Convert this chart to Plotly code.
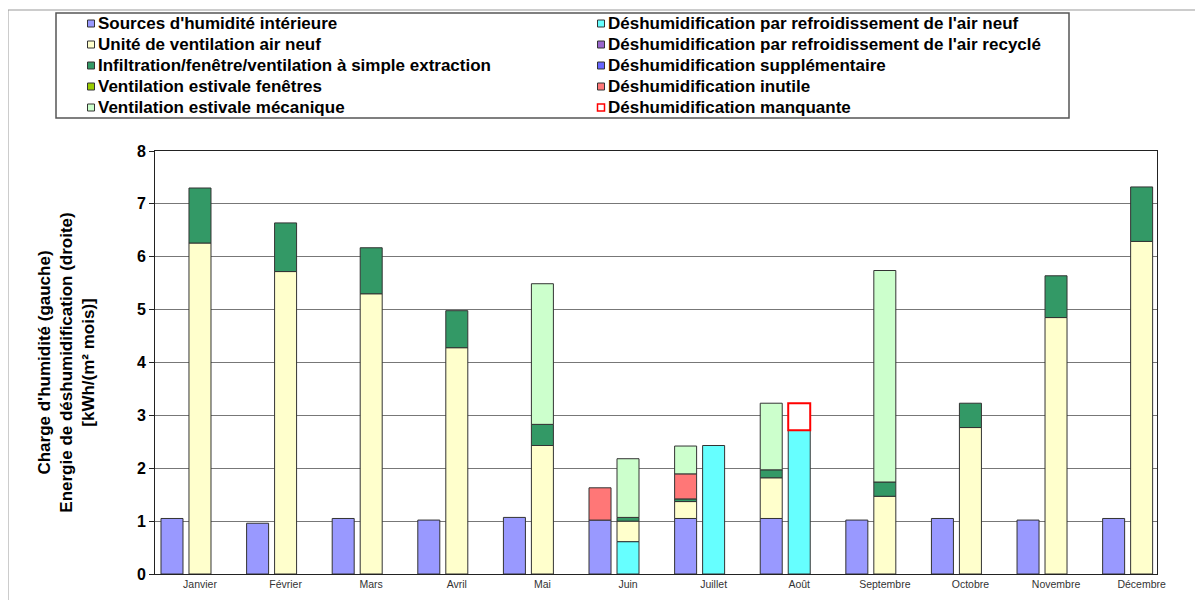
import plotly.graph_objects as go
import numpy as np

months = ["Janvier", "Février", "Mars", "Avril", "Mai", "Juin", "Juillet",
          "Août", "Septembre", "Octobre", "Novembre", "Décembre"]

# Left bar of each month (humidity load)
sources = [1.05, 0.96, 1.05, 1.02, 1.07, 1.02, 1.05, 1.05, 1.02, 1.05, 1.02, 1.05]
vent_air_neuf_gauche = [0, 0, 0, 0, 0, 0, 0.32, 0.77, 0, 0, 0, 0]
infiltration_gauche = [0, 0, 0, 0, 0, 0, 0.05, 0.15, 0, 0, 0, 0]
deshum_inutile = [0, 0, 0, 0, 0, 0.61, 0.47, 0, 0, 0, 0, 0]
vent_meca_gauche = [0, 0, 0, 0, 0, 0, 0.53, 1.26, 0, 0, 0, 0]

# Right bar of each month
deshum_air_neuf = [0, 0, 0, 0, 0, 0.61, 2.43, 2.72, 0, 0, 0, 0]
vent_air_neuf_droite = [6.26, 5.72, 5.30, 4.28, 2.43, 0.39, 0, 0, 1.47, 2.77, 4.85, 6.29]
infiltration_droite = [1.04, 0.92, 0.87, 0.70, 0.40, 0.07, 0, 0, 0.27, 0.46, 0.79, 1.03]
vent_meca_droite = [0, 0, 0, 0, 2.66, 1.11, 0, 0, 4.00, 0, 0, 0]
deshum_manquante = [0, 0, 0, 0, 0, 0, 0, 0.51, 0, 0, 0, 0]

# Series with no values in this chart (legend only)
vent_fenetres = [0] * 12
deshum_recycle = [0] * 12
deshum_supp = [0] * 12

y_ticks = [0, 1, 2, 3, 4, 5, 6, 7, 8]

FONT = "Arial, 'Liberation Sans', sans-serif"
OUTLINE = "#333333"

W, H = 1187, 592
ML, MR, MT, MB = 147, 38, 143, 26
PW, PH = W - ML - MR, H - MT - MB


def px_x(px):
    return (px - ML) / PW


def px_y(py):
    return (H - MB - py) / PH


fig = go.Figure()

# (name, left values, right values, color, legend column, legend row)
series = [
    ("Sources d'humidité intérieure", sources, None, "#9999ff", 0, 0),
    ("Unité de ventilation air neuf", vent_air_neuf_gauche, vent_air_neuf_droite, "#ffffcc", 0, 1),
    ("Infiltration/fenêtre/ventilation à simple extraction", infiltration_gauche, infiltration_droite, "#339966", 0, 2),
    ("Ventilation estivale fenêtres", vent_fenetres, None, "#99cc00", 0, 3),
    ("Ventilation estivale mécanique", vent_meca_gauche, vent_meca_droite, "#ccffcc", 0, 4),
    ("Déshumidification par refroidissement de l'air neuf", None, deshum_air_neuf, "#66ffff", 1, 0),
    ("Déshumidification par refroidissement de l'air recyclé", None, deshum_recycle, "#9966cc", 1, 1),
    ("Déshumidification supplémentaire", None, deshum_supp, "#6666ff", 1, 2),
    ("Déshumidification inutile", deshum_inutile, None, "#ff7777", 1, 3),
    ("Déshumidification manquante", None, deshum_manquante, "#ffffff", 1, 4),
]

# stacking order per bar
left_order = [sources, vent_air_neuf_gauche, vent_fenetres, infiltration_gauche,
              deshum_inutile, vent_meca_gauche]
right_order = [deshum_air_neuf, deshum_recycle, deshum_supp, vent_air_neuf_droite,
               infiltration_droite, vent_meca_droite, deshum_manquante]


def bases(order):
    out = {}
    cum = np.zeros(12)
    for arr in order:
        out[id(arr)] = cum.copy()
        cum = cum + np.array(arr, dtype=float)
    return out


left_base = bases(left_order)
right_base = bases(right_order)

for name, lv, rv, color, col, row in series:
    is_missing = name == "Déshumidification manquante"
    for vals, grp, bmap in ((lv, "L", left_base), (rv, "R", right_base)):
        if vals is None:
            continue
        y = [v if v else None for v in vals]
        fig.add_trace(go.Bar(
            x=months, y=y, base=bmap[id(vals)], name=name, offsetgroup=grp,
            showlegend=False,
            marker=dict(color=color,
                        line=dict(color="#ff0000" if is_missing else OUTLINE,
                                  width=2 if is_missing else 1)),
            hoverinfo="skip",
        ))

# Legend drawn as a framed box with square keys and text
LEG_X0, LEG_X1, LEG_Y0, LEG_Y1 = 48, 1061, 5, 110
COL_SYM = [83, 593]
ROW_Y = [15.5, 36.5, 57.5, 78.5, 99.5]
SYM = 3.5
fig.add_shape(type="rect", xref="paper", yref="paper",
              x0=px_x(LEG_X0), x1=px_x(LEG_X1), y0=px_y(LEG_Y1), y1=px_y(LEG_Y0),
              line=dict(color="#555555", width=1.5), fillcolor="white", layer="below")
for name, lv, rv, color, col, row in series:
    is_missing = name == "Déshumidification manquante"
    cx, cy = COL_SYM[col], ROW_Y[row]
    fig.add_shape(type="rect", xref="paper", yref="paper",
                  x0=px_x(cx - SYM), x1=px_x(cx + SYM), y0=px_y(cy + SYM), y1=px_y(cy - SYM),
                  fillcolor=color,
                  line=dict(color="#ff0000" if is_missing else OUTLINE,
                            width=1.5 if is_missing else 1))
    fig.add_annotation(text=name, xref="paper", yref="paper",
                       x=px_x(cx + SYM + 1.5), y=px_y(cy), xanchor="left", yanchor="middle",
                       showarrow=False,
                       font=dict(family=FONT, size=17, color="black", weight="bold"))

fig.update_layout(
    width=W, height=H,
    margin=dict(l=ML, r=MR, t=MT, b=MB, autoexpand=False),
    barmode="group", bargap=0.346, bargroupgap=0.214,
    paper_bgcolor="white", plot_bgcolor="white",
    font=dict(family=FONT, color="black"),
    showlegend=False,
)

fig.update_xaxes(
    type="category", range=[-0.362, 11.343],
    showline=True, linecolor="#222222", linewidth=1, mirror=True,
    showgrid=False, ticks="", ticklabelshift=14,
    tickfont=dict(family=FONT, size=10.5, color="#333333"),
)
fig.update_yaxes(
    range=[0, 8], tickvals=y_ticks, showgrid=True, gridcolor="#777777", gridwidth=1,
    showline=True, linecolor="#222222", linewidth=1, mirror=True,
    ticks="outside", ticklen=5, tickcolor="#222222",
    tickfont=dict(family=FONT, size=16, color="black", weight="bold"),
    zeroline=False,
    title=dict(text="Charge d'humidité (gauche)<br>Energie de déshumidification (droite)<br>[kWh/(m² mois)]",
               font=dict(family=FONT, size=17, color="black", weight="bold"), standoff=37),
)

# outer frame (top and left lines)
fig.add_shape(type="line", xref="paper", yref="paper", x0=px_x(0), x1=px_x(W + 20),
              y0=px_y(2), y1=px_y(2), line=dict(color="#999999", width=1))
fig.add_shape(type="line", xref="paper", yref="paper", x0=px_x(0), x1=px_x(0),
              y0=px_y(2), y1=px_y(H + 20), line=dict(color="#999999", width=1))

fig.write_html("out.html")
